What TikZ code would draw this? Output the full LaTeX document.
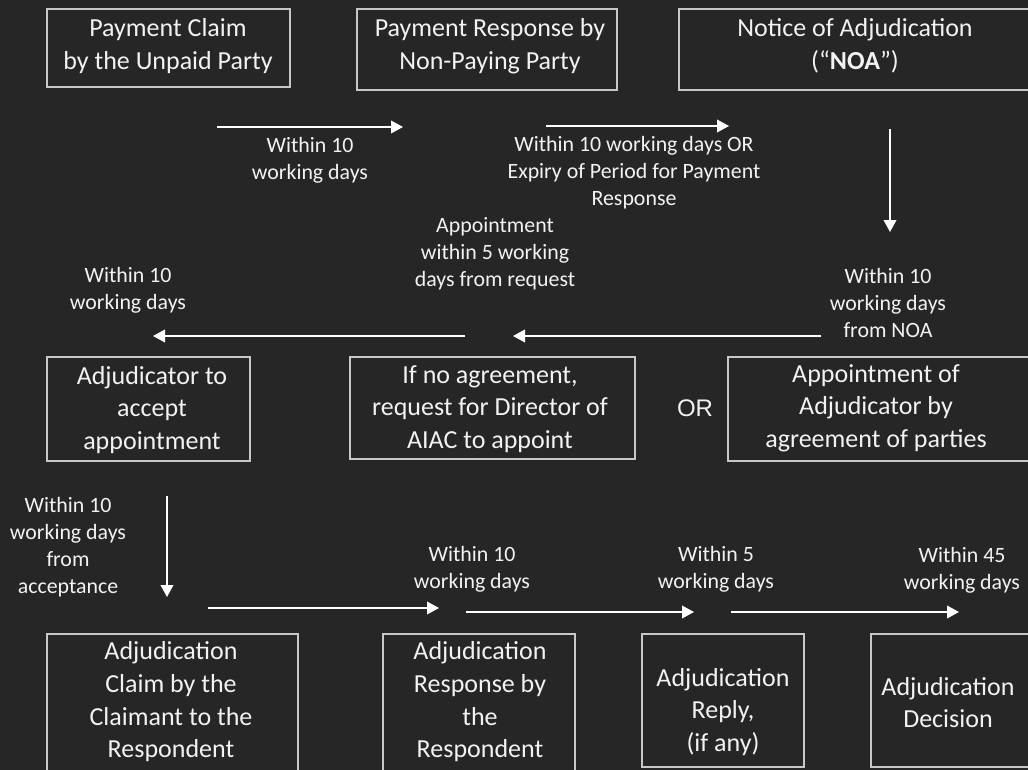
\documentclass[tikz,border=0pt]{standalone}
\usepackage{fontspec}
\setmainfont{Carlito}
\newfontfamily\arialfont{Liberation Sans}
\usepackage{xcolor}
\usetikzlibrary{arrows.meta}
\definecolor{fond}{HTML}{262626}
\definecolor{trait}{HTML}{C8C8C8}
\definecolor{ecrit}{HTML}{F2F2F2}

\begin{document}
\begin{tikzpicture}[x=0.75pt,y=-0.75pt,
  boite/.style={draw=trait, line width=1.1pt},
  etape/.style={text=ecrit, align=center, inner sep=0pt, font=\fontsize{19.5}{24.5}\selectfont},
  delai/.style={text=ecrit, align=center, inner sep=0pt, font=\fontsize{16.4}{20.2}\selectfont},
  fleche/.style={draw=white, line width=1.2pt, -{Triangle[length=9pt,width=9.5pt]}}]

%fond noir
\useasboundingbox (0,0) rectangle (1028,770);
\fill[fond] (0,0) rectangle (1028,770);
\clip (0,0) rectangle (1028,770);

%premiere ligne
\draw[boite] (47,9) rectangle (290,87);
\node[etape] (claim) at (168,46) {Payment Claim\\by the Unpaid Party};
\draw[boite] (357,9) rectangle (617,90);
\node[etape] (response) at (490,46) {Payment Response by\\Non-Paying Party};
\draw[boite] (679,9) rectangle (1040,90);
\node[etape] (noa) at (855,46) {Notice of Adjudication\\(“\textbf{NOA}”)};

\coordinate (f1a) at (217,127); \coordinate (f1b) at (403,127);
\draw[fleche] (f1a) -- (f1b);
\node[delai] (d1) at (310,160.5) {Within 10\\working days};

\coordinate (f2a) at (546,126); \coordinate (f2b) at (729,126);
\draw[fleche] (f2a) -- (f2b);
\node[delai] (d2) at (634,173) {Within 10 working days OR\\Expiry of Period for Payment\\Response};

\coordinate (f3a) at (890,129); \coordinate (f3b) at (890,232);
\draw[fleche] (f3a) -- (f3b);
\node[delai] (d3) at (888,303) {Within 10\\working days\\from NOA};

%deuxieme ligne
\coordinate (f4a) at (821,336); \coordinate (f4b) at (513,336);
\draw[fleche] (f4a) -- (f4b);
\node[delai] (d4) at (495,254) {Appointment\\within 5 working\\days from request};

\coordinate (f5a) at (465,336); \coordinate (f5b) at (153,336);
\draw[fleche] (f5a) -- (f5b);
\node[delai] (d5) at (128,290) {Within 10\\working days};

\draw[boite] (47,357) rectangle (250,461);
\node[etape] (accept) at (152,410) {Adjudicator to\\accept\\appointment};
\draw[boite] (350,357) rectangle (635,459);
\node[etape] (director) at (490,409) {If no agreement,\\request for Director of\\AIAC to appoint};
\node[text=ecrit, inner sep=0pt, font=\arialfont\fontsize{18}{22}\selectfont] (ou) at (695,408) {OR};
\draw[boite] (728,357) rectangle (1040,461);
\node[etape] (agree) at (876,408) {Appointment of\\Adjudicator by\\agreement of parties};

%troisieme ligne
\coordinate (f6a) at (167,496); \coordinate (f6b) at (167,597);
\draw[fleche] (f6a) -- (f6b);
\node[delai] (d6) at (68,547) {Within 10\\working days\\from\\acceptance};

\coordinate (f7a) at (208,608); \coordinate (f7b) at (439,608);
\draw[fleche] (f7a) -- (f7b);
\node[delai] (d7) at (472,569) {Within 10\\working days};

\coordinate (f8a) at (466,612); \coordinate (f8b) at (694,612);
\draw[fleche] (f8a) -- (f8b);
\node[delai] (d8) at (716,569) {Within 5\\working days};

\coordinate (f9a) at (731,612); \coordinate (f9b) at (959,612);
\draw[fleche] (f9a) -- (f9b);
\node[delai] (d9) at (962,570) {Within 45\\working days};

%derniere ligne
\draw[boite] (47,634) rectangle (298,790);
\node[etape] (adjclaim) at (171,702) {Adjudication\\Claim by the\\Claimant to the\\Respondent};
\draw[boite] (383,634) rectangle (575,790);
\node[etape] (adjresp) at (480,702) {Adjudication\\Response by\\the\\Respondent};
\draw[boite] (642,634) rectangle (804,767);
\node[etape] (reply) at (723,712) {Adjudication\\Reply,\\(if any)};
\draw[boite] (871,634) rectangle (1040,767);
\node[etape] (decision) at (948,702.5) {Adjudication\\Decision};

\end{tikzpicture}
\end{document}
